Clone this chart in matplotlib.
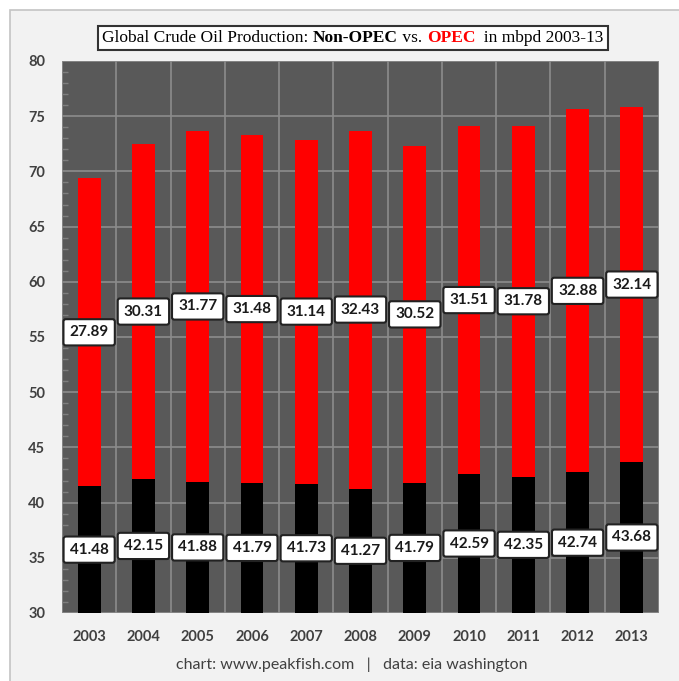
import matplotlib
matplotlib.use("Agg")
import matplotlib.pyplot as plt
import numpy as np
from matplotlib.patches import Rectangle
from matplotlib.offsetbox import TextArea, HPacker, AnchoredOffsetbox
from matplotlib.ticker import MultipleLocator

years = ['2003', '2004', '2005', '2006', '2007', '2008', '2009', '2010', '2011', '2012', '2013']
non_opec = [41.48, 42.15, 41.88, 41.79, 41.73, 41.27, 41.79, 42.59, 42.35, 42.74, 43.68]
opec = [27.89, 30.31, 31.77, 31.48, 31.14, 32.43, 30.52, 31.51, 31.78, 32.88, 32.14]

lab_font = 'Lato'
txt_col = '#404040'

fig = plt.figure(figsize=(6.79, 6.81), dpi=100, facecolor='white')
# light panel with border (runs off the right/bottom edges)
fig.patches.append(Rectangle((10 / 679, -0.1), 1.2, 1.1 - 10 / 681, transform=fig.transFigure,
                             facecolor='#f2f2f2', edgecolor='#c4c4c4', linewidth=1.2, zorder=-5))

ax = fig.add_axes([62 / 679, 1 - 613 / 681, 597 / 679, 552 / 681])
ax.set_facecolor('#595959')

x = np.arange(len(years))
ax.bar(x, non_opec, width=0.42, color='black', zorder=3)
ax.bar(x, opec, width=0.42, bottom=non_opec, color='#ff0000', zorder=3)

ax.set_xlim(-0.5, len(years) - 0.5)
ax.set_ylim(30, 80)
ax.yaxis.set_major_locator(MultipleLocator(5))
ax.yaxis.set_minor_locator(MultipleLocator(1))
ax.set_xticks(x)
ax.set_xticklabels(years)
ax.set_xticks(np.arange(len(years) + 1) - 0.5, minor=True)

ax.grid(True, which='major', axis='y', color='#8c8c8c', linewidth=1.2, zorder=1)
ax.grid(True, which='minor', axis='x', color='#8c8c8c', linewidth=1.2, zorder=1)
ax.tick_params(axis='y', which='major', length=0, pad=12, labelsize=10.5, labelcolor=txt_col)
ax.tick_params(axis='y', which='minor', direction='in', length=4, color='#7e7e7e', width=1)
ax.tick_params(axis='x', which='both', length=0, pad=12, labelsize=10.5, labelcolor=txt_col)
for lab in ax.get_xticklabels() + ax.get_yticklabels():
    lab.set_fontfamily(lab_font)
    lab.set_fontweight('bold')
for s in ax.spines.values():
    s.set_visible(False)

box = dict(boxstyle='round,pad=0.4,rounding_size=0.15', facecolor='white', edgecolor='#222222', linewidth=1.5)
for i in range(len(years)):
    ax.text(x[i], 30 + (non_opec[i] - 30) / 2, f'{non_opec[i]:.2f}', ha='center', va='center',
            fontsize=11, fontweight='bold', family=lab_font, color='#1a1a1a', bbox=box, zorder=5)
    ax.text(x[i], non_opec[i] + opec[i] / 2, f'{opec[i]:.2f}', ha='center', va='center',
            fontsize=11, fontweight='bold', family=lab_font, color='#1a1a1a', bbox=box, zorder=5)

# title in a framed box, mixed styles
serif = 'Liberation Serif'
parts = [
    ('Global Crude Oil Production: ', 'black', 'normal'),
    ('Non-OPEC', 'black', 'bold'),
    (' vs. ', 'black', 'normal'),
    ('OPEC', '#ff0000', 'bold'),
    ('  in mbpd 2003-13', 'black', 'normal'),
]
areas = [TextArea(t, textprops=dict(color=c, fontweight=w, family=serif, fontsize=12.5)) for t, c, w in parts]
pack = HPacker(children=areas, align='baseline', pad=0, sep=0)
anch = AnchoredOffsetbox(loc='center', child=pack, pad=0.3, frameon=True,
                         bbox_to_anchor=(353 / 679, 1 - 38 / 681), bbox_transform=fig.transFigure,
                         borderpad=0)
anch.patch.set_facecolor('white')
anch.patch.set_edgecolor('#333333')
anch.patch.set_linewidth(1.5)
anch.patch.set_boxstyle('square', pad=0)
fig.add_artist(anch)

fig.text(352 / 679, 1 - 665 / 681, 'chart: www.peakfish.com   |   data: eia washington', ha='center', va='center',
         fontsize=11.5, family=lab_font, color=txt_col)

fig.savefig('out.png', dpi=100, facecolor=fig.get_facecolor())
